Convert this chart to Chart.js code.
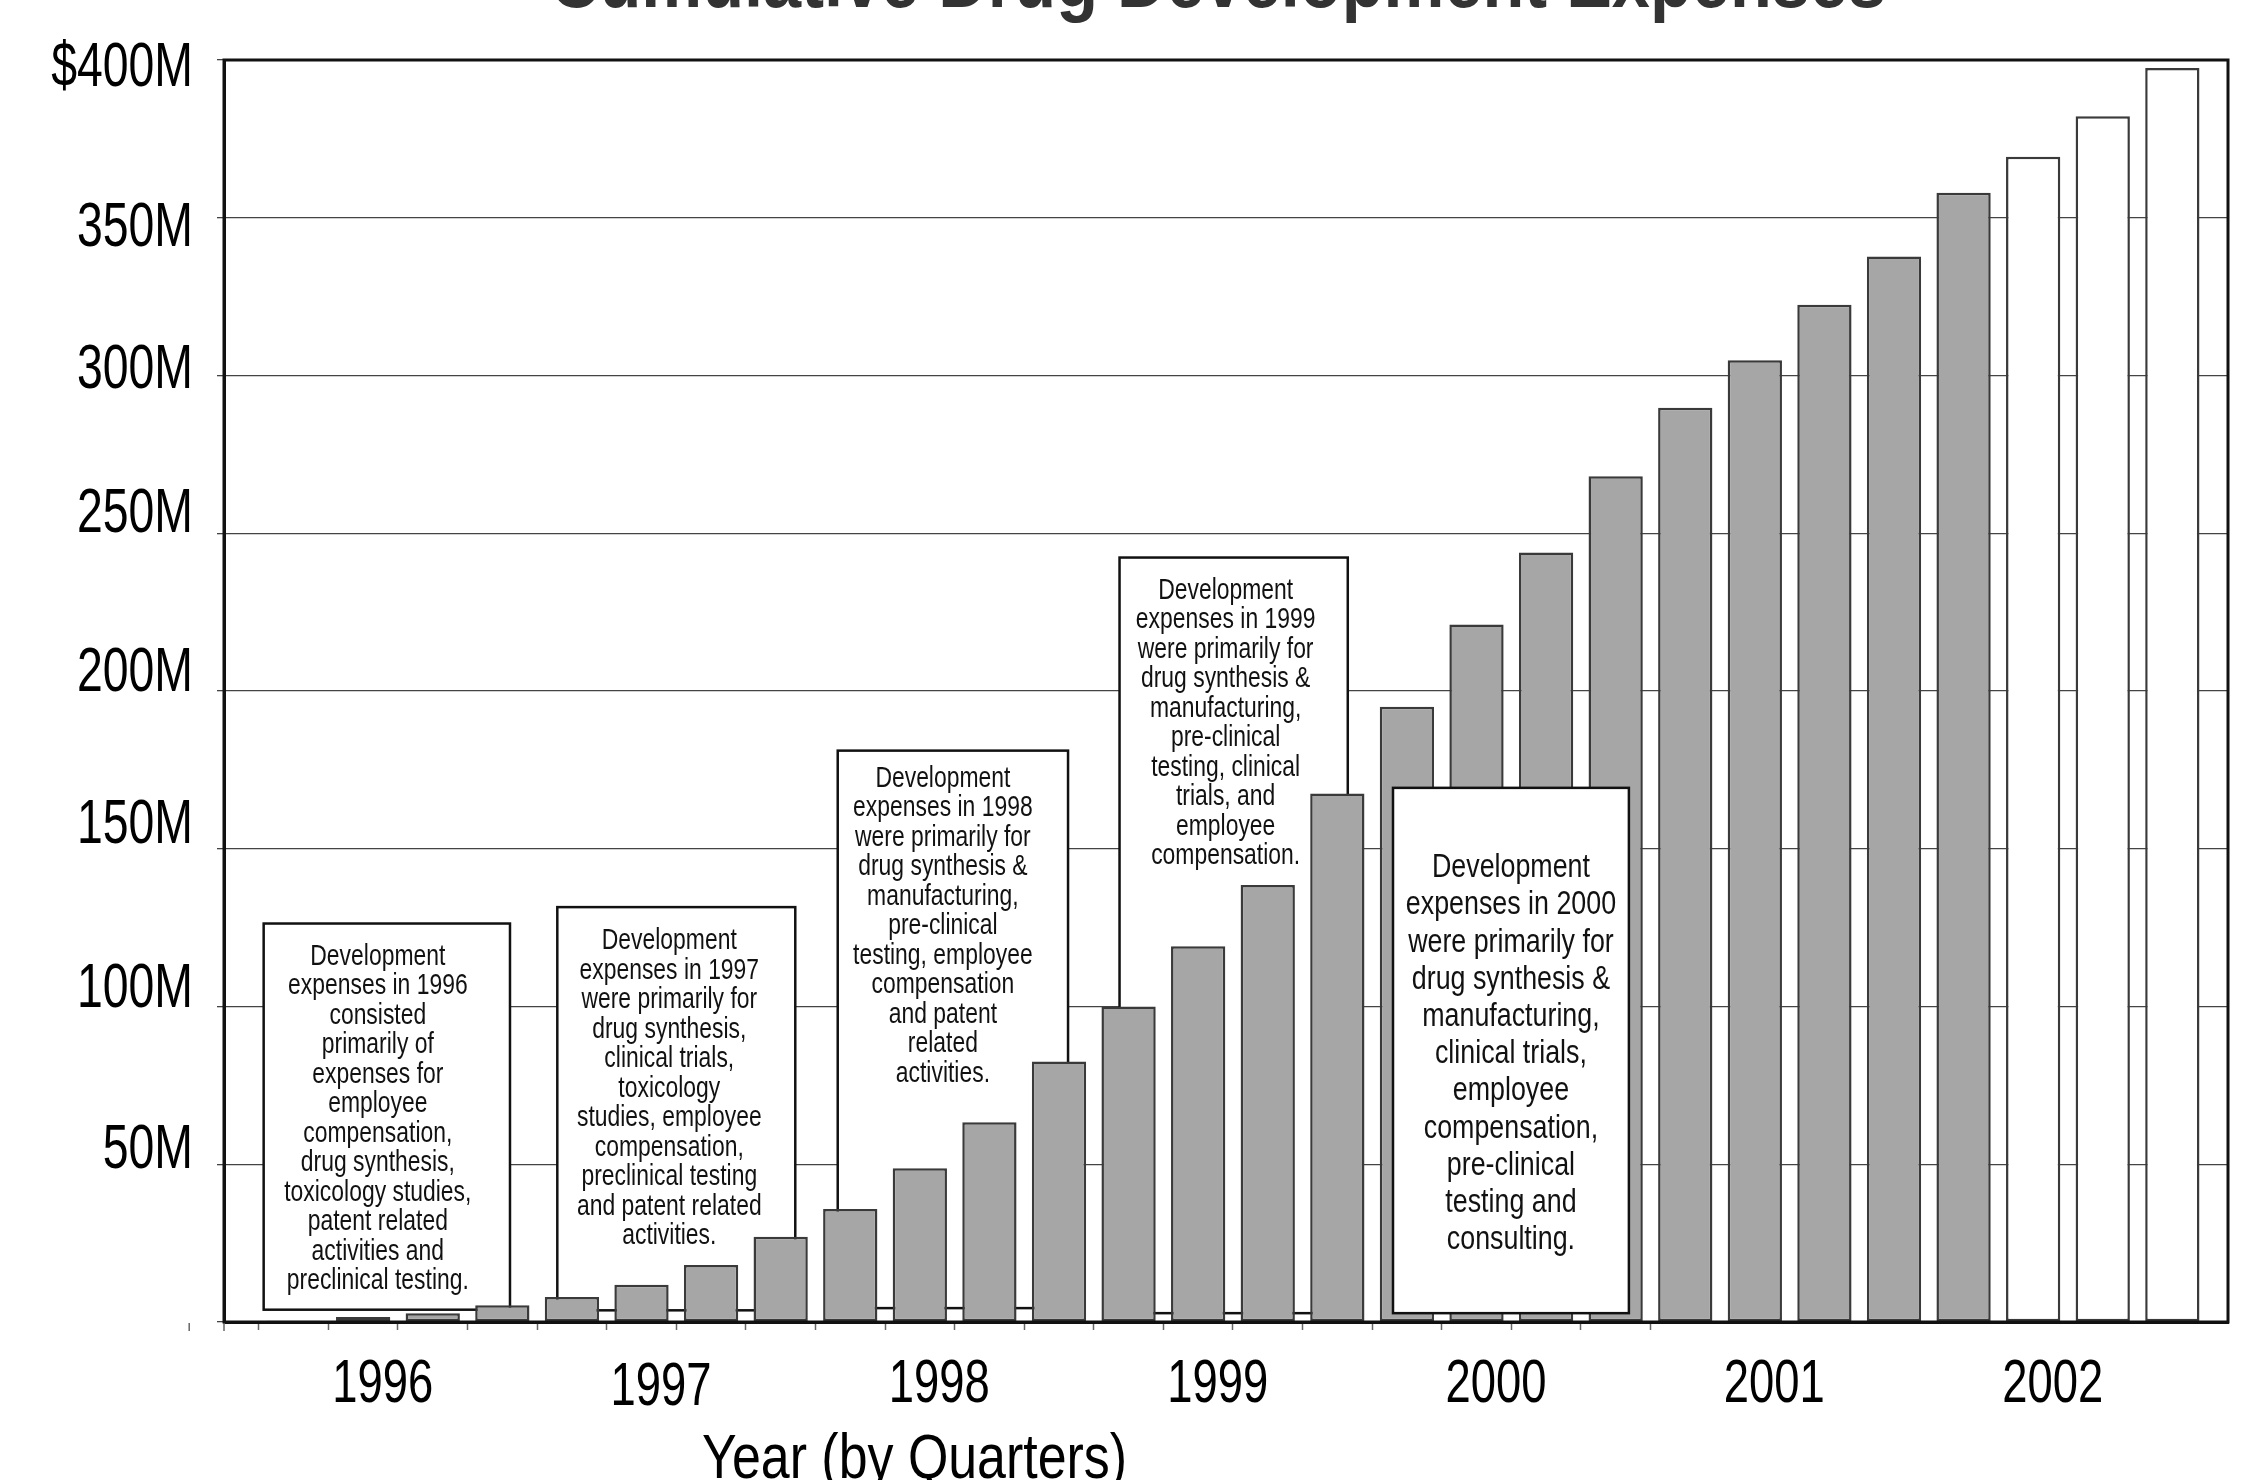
<!DOCTYPE html>
<html>
<head>
<meta charset="utf-8">
<title>Cumulative Drug Development Expenses</title>
<script src="https://cdn.jsdelivr.net/npm/chart.js@4/dist/chart.umd.min.js"></script>
<style>
  html, body { margin: 0; padding: 0; background: #fff; overflow: hidden; width: 2252px; height: 1480px; }
  #wrap { position: absolute; left: 0; top: 0; width: 2252px; height: 1480px; }
</style>
</head>
<body>
<div id="wrap"><canvas id="chart"></canvas></div>
<script>
// ---- data ($ millions, cumulative, one value per quarter) ----
const chartTitle = 'Cumulative Drug Development Expenses';
const axisCaption = 'Year (by Quarters)';
const yearLabels = ['1996', '1997', '1998', '1999', '2000', '2001', '2002'];
const quarterLabels = [
  '1996 Q1', '1996 Q2', '1996 Q3', '1996 Q4',
  '1997 Q1', '1997 Q2', '1997 Q3', '1997 Q4',
  '1998 Q1', '1998 Q2', '1998 Q3', '1998 Q4',
  '1999 Q1', '1999 Q2', '1999 Q3', '1999 Q4',
  '2000 Q1', '2000 Q2', '2000 Q3', '2000 Q4',
  '2001 Q1', '2001 Q2', '2001 Q3', '2001 Q4',
  '2002 Q1', '2002 Q2', '2002 Q3', '2002 Q4'
];
// reported quarters (1996 Q1 - 2002 Q1)
const actualExpenses = [
  0.4, 1.6, 2.8, 5.3,
  7.9, 11.8, 18.1, 27.0,
  35.8, 48.7, 63.3, 82.6,
  100.0, 119.1, 138.5, 167.5,
  195.0, 221.1, 243.9, 268.1,
  289.8, 304.8, 322.4, 337.7,
  357.9
];
// remaining 2002 quarters
const projectedExpenses = [369.3, 382.2, 397.5];

const yTickValues = [0, 50, 100, 150, 200, 250, 300, 350, 400];
const yTickLabels = ['', '50M', '100M', '150M', '200M', '250M', '300M', '350M', '$400M'];

// ---- explanatory notes for each year ----
const noteText = {
  1996: ['Development', 'expenses in 1996', 'consisted', 'primarily of', 'expenses for', 'employee',
         'compensation,', 'drug synthesis,', 'toxicology studies,', 'patent related', 'activities and',
         'preclinical testing.'],
  1997: ['Development', 'expenses in 1997', 'were primarily for', 'drug synthesis,', 'clinical trials,',
         'toxicology', 'studies, employee', 'compensation,', 'preclinical testing', 'and patent related',
         'activities.'],
  1998: ['Development', 'expenses in 1998', 'were primarily for', 'drug synthesis &', 'manufacturing,',
         'pre-clinical', 'testing, employee', 'compensation', 'and patent', 'related', 'activities.'],
  1999: ['Development', 'expenses in 1999', 'were primarily for', 'drug synthesis &', 'manufacturing,',
         'pre-clinical', 'testing, clinical', 'trials, and', 'employee', 'compensation.'],
  2000: ['Development', 'expenses in 2000', 'were primarily for', 'drug synthesis &', 'manufacturing,',
         'clinical trials,', 'employee', 'compensation,', 'pre-clinical', 'testing and', 'consulting.']
};

// ---- layout ----
// note boxes: x in quarter slots, y in $M; text offsets in px
const noteBoxes = [
  { year: 1996, x0: 0.57, x1: 4.11, y0: 3.9, y1: 126.3, above: false, style: 'note', lead: 29.5, first: 33, dx: -9 },
  { year: 1997, x0: 4.79, x1: 8.21, y0: 3.7, y1: 131.5, above: false, style: 'note', lead: 29.5, first: 34, dx: -7 },
  { year: 1998, x0: 8.82, x1: 12.13, y0: 4.4, y1: 181.1, above: false, style: 'note', lead: 29.5, first: 28, dx: -10 },
  { year: 1999, x0: 12.87, x1: 16.15, y0: 2.8, y1: 242.3, above: false, style: 'note', lead: 29.5, first: 33, dx: -8 },
  { year: 2000, x0: 16.80, x1: 20.19, y0: 2.8, y1: 169.3, above: true, style: 'noteBig', lead: 37.2, first: 80, dx: 0 }
];
const yLabelNudge = [0, -18, -21, -27, -22, -23, -9, 7, 4.5];   // px, label centre vs grid line
const yearLabelNudge = [0, 3, 0, 0, 0, 0, 0];                    // px, vertical
const yearLabelShift = -0.22;                                      // slots, left of group centre

// text looks: target cap height / width of a reference string (condensed face)
const FONT = "'Liberation Sans', Arial, sans-serif";
const TEXT = {
  yTick:   { cap: 43, ref: '350M', width: 116 },
  year:    { cap: 42, ref: '1996', width: 101 },
  caption: { cap: 43, ref: axisCaption, width: 425 },
  note:    { cap: 20, ref: 'Development', width: 135 },
  noteBig: { cap: 23.5, ref: 'Development', width: 158 },
  title:   { size: 78, bold: true, ref: chartTitle, width: 1336 }
};

const boundaryTicks = [];
for (let i = 0; i <= 20; i++) boundaryTicks.push(i + 0.5);

const actualPoints = actualExpenses.map((v, i) => ({ x: i + 1, y: v }));
const projectedPoints = projectedExpenses.map((v, i) => ({ x: actualExpenses.length + i + 1, y: v }));

// ---- condensed text helper ----
const textCache = {};
function textStyle(ctx, key) {
  if (textCache[key]) return textCache[key];
  const t = TEXT[key];
  const weight = t.bold ? 'bold ' : '';
  ctx.save();
  let size = t.size;
  if (!size) {
    ctx.font = weight + '100px ' + FONT;
    const cap = ctx.measureText('H').actualBoundingBoxAscent;
    size = t.cap / cap * 100;
  }
  const font = weight + size.toFixed(2) + 'px ' + FONT;
  ctx.font = font;
  const sx = t.width / ctx.measureText(t.ref).width;
  ctx.restore();
  textCache[key] = { font, sx, cap: t.cap || size * 0.716 };
  return textCache[key];
}
function drawText(ctx, key, str, x, y, align, baseline, color) {
  const st = textStyle(ctx, key);
  ctx.save();
  ctx.font = st.font;
  ctx.fillStyle = color || '#000000';
  ctx.textAlign = align;
  ctx.textBaseline = baseline;
  ctx.translate(x, y);
  ctx.scale(st.sx, 1);
  ctx.fillText(str, 0, 0);
  ctx.restore();
}

function drawNote(chart, box) {
  const { ctx } = chart;
  const xs = chart.scales.x, ys = chart.scales.y;
  const left = xs.getPixelForValue(box.x0), right = xs.getPixelForValue(box.x1);
  const top = ys.getPixelForValue(box.y1), bottom = ys.getPixelForValue(box.y0);
  ctx.save();
  ctx.fillStyle = '#ffffff';
  ctx.fillRect(left, top, right - left, bottom - top);
  ctx.lineWidth = 2.5;
  ctx.strokeStyle = '#111111';
  ctx.strokeRect(left, top, right - left, bottom - top);
  ctx.restore();
  const cx = (left + right) / 2 + box.dx;
  noteText[box.year].forEach((line, i) =>
    drawText(ctx, box.style, line, cx, top + box.first + i * box.lead, 'center', 'middle', '#111111'));
}

const notesPlugin = {
  id: 'yearNotes',
  beforeDatasetsDraw(chart) { noteBoxes.filter(b => !b.above).forEach(b => drawNote(chart, b)); },
  afterDatasetsDraw(chart) { noteBoxes.filter(b => b.above).forEach(b => drawNote(chart, b)); }
};

const labelsPlugin = {
  id: 'axisText',
  afterDraw(chart) {
    const { ctx, chartArea: a } = chart;
    const xs = chart.scales.x, ys = chart.scales.y;
    ctx.save();
    // outer frame of the plot
    ctx.strokeStyle = '#111111';
    ctx.lineWidth = 3;
    ctx.strokeRect(a.left, a.top, a.right - a.left, a.bottom - a.top);
    // slot ticks at and left of the frame edge
    ctx.strokeStyle = '#666666';
    ctx.lineWidth = 1.5;
    [-0.5, 0].forEach(v => {
      const px = xs.getPixelForValue(v);
      ctx.beginPath();
      ctx.moveTo(px, a.bottom + 1);
      ctx.lineTo(px, a.bottom + 9);
      ctx.stroke();
    });
    ctx.restore();

    // value labels
    const yCap = textStyle(ctx, 'yTick').cap;
    yTickValues.forEach((v, i) => {
      if (!yTickLabels[i]) return;
      const py = ys.getPixelForValue(v) + yLabelNudge[i] + yCap / 2;
      drawText(ctx, 'yTick', yTickLabels[i], a.left - 31, py, 'right', 'alphabetic');
    });
    // year labels under each group of four quarters
    yearLabels.forEach((yr, k) => {
      const px = xs.getPixelForValue(4 * k + 2.5 + yearLabelShift);
      drawText(ctx, 'year', yr, px, a.bottom + 80 + yearLabelNudge[k], 'center', 'alphabetic');
    });
    // axis caption and chart title
    drawText(ctx, 'caption', axisCaption, a.left + (a.right - a.left) * 0.3446, a.bottom + 156, 'center', 'alphabetic');
    drawText(ctx, 'title', chartTitle, (a.left + a.right) / 2 - 8, a.top - 53, 'center', 'alphabetic', '#333333');
  }
};

new Chart(document.getElementById('chart'), {
  type: 'bar',
  data: {
    datasets: [
      {
        label: 'Development expenses',
        data: actualPoints,
        backgroundColor: '#a6a6a6',
        borderColor: '#3a3a3a',
        borderWidth: 2.5,
        borderSkipped: false,
        grouped: false,
        categoryPercentage: 1,
        barPercentage: 0.78
      },
      {
        label: 'Projected',
        data: projectedPoints,
        backgroundColor: '#ffffff',
        borderColor: '#3a3a3a',
        borderWidth: 2.5,
        borderSkipped: false,
        grouped: false,
        categoryPercentage: 1,
        barPercentage: 0.78
      }
    ]
  },
  options: {
    responsive: true,
    maintainAspectRatio: false,
    animation: false,
    events: [],
    layout: { padding: { left: 0, right: 24, top: 60, bottom: 0 } },
    plugins: {
      legend: { display: false },
      tooltip: { enabled: false },
      title: { display: false }
    },
    scales: {
      x: {
        type: 'linear',
        min: 0,
        max: 28.8,
        offset: false,
        afterBuildTicks(scale) { scale.ticks = boundaryTicks.map(v => ({ value: v })); },
        afterFit(scale) { scale.height = 158; },
        border: { display: true, color: '#111111', width: 3 },
        grid: {
          display: true,
          offset: false,
          drawOnChartArea: false,
          drawTicks: true,
          tickLength: 8,
          tickWidth: 1.5,
          tickColor: '#666666'
        },
        ticks: { display: false, autoSkip: false }
      },
      y: {
        min: 0,
        max: 400,
        afterBuildTicks(scale) { scale.ticks = yTickValues.map(v => ({ value: v })); },
        afterFit(scale) { scale.width = 224; },
        border: { display: true, color: '#111111', width: 3 },
        grid: {
          color: '#444444',
          lineWidth: 1.3,
          drawTicks: true,
          tickLength: 7,
          tickColor: '#444444'
        },
        ticks: { display: false }
      }
    }
  },
  plugins: [notesPlugin, labelsPlugin]
});
</script>
</body>
</html>
